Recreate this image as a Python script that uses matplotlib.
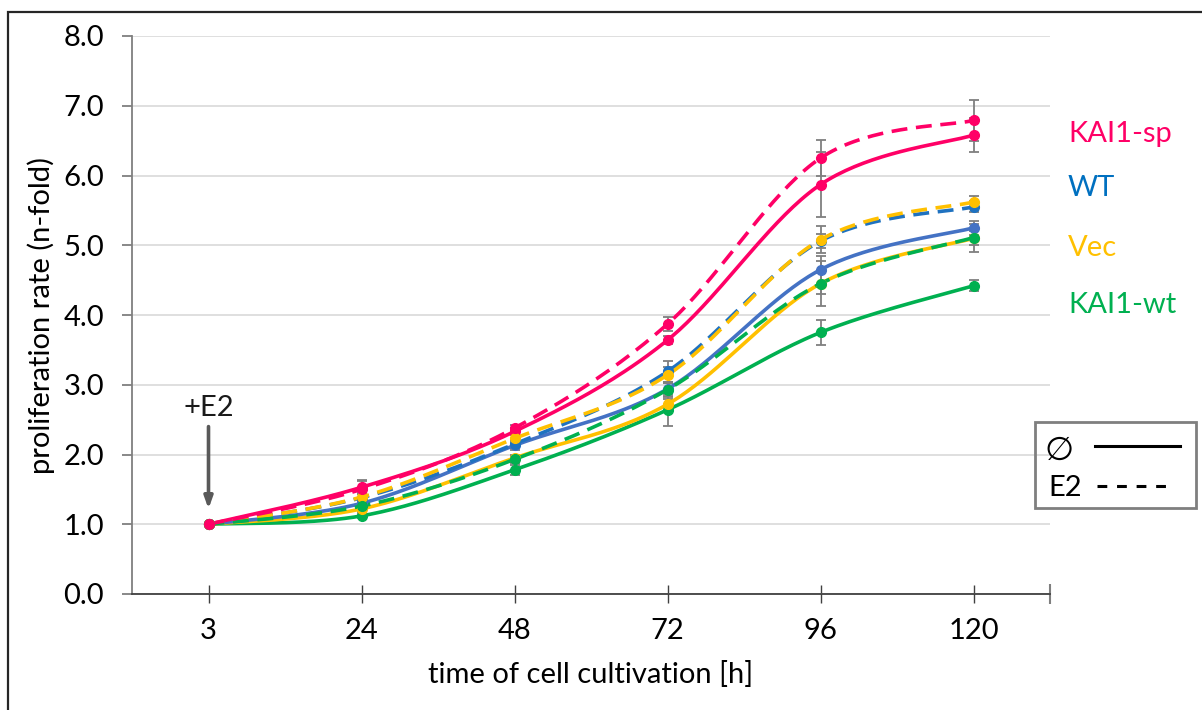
import numpy as np
import matplotlib
matplotlib.use("Agg")
import matplotlib.pyplot as plt
from matplotlib.patches import Rectangle
from matplotlib.lines import Line2D

plt.rcParams['font.family'] = ['Lato', 'DejaVu Sans']

# --- Data ---
hours = ["3", "24", "48", "72", "96", "120"]

sp_ctrl = [1.00, 1.53, 2.33, 3.64, 5.87, 6.58]
sp_ctrl_err = [0.0, 0.10, 0.05, 0.06, 0.47, 0.25]
sp_e2 = [1.00, 1.50, 2.38, 3.87, 6.25, 6.79]
sp_e2_err = [0.0, 0.12, 0.05, 0.10, 0.26, 0.29]

wt_ctrl = [1.00, 1.30, 2.13, 2.94, 4.65, 5.25]
wt_ctrl_err = [0.0, 0.06, 0.06, 0.10, 0.20, 0.10]
wt_e2 = [1.00, 1.38, 2.15, 3.19, 5.06, 5.55]
wt_e2_err = [0.0, 0.06, 0.06, 0.15, 0.10, 0.08]

vec_ctrl = [1.00, 1.22, 1.95, 2.72, 4.45, 5.10]
vec_ctrl_err = [0.0, 0.05, 0.05, 0.08, 0.15, 0.10]
vec_e2 = [1.00, 1.39, 2.23, 3.14, 5.08, 5.62]
vec_e2_err = [0.0, 0.06, 0.06, 0.12, 0.19, 0.08]

kwt_ctrl = [1.00, 1.12, 1.78, 2.64, 3.75, 4.42]
kwt_ctrl_err = [0.0, 0.03, 0.07, 0.23, 0.18, 0.08]
kwt_e2 = [1.00, 1.26, 1.93, 2.93, 4.45, 5.11]
kwt_e2_err = [0.0, 0.04, 0.05, 0.10, 0.32, 0.20]

PINK = "#FF0066"
BLUE = "#4472C4"
BLUE_D = "#1F72C0"
YELLOW = "#FFC000"
GREEN = "#00B050"
ERR = "#7F7F7F"
FS = 21


def smooth(xs, ys, n=40):
    """Excel-style smoothed line (Bezier through the points, tension 1/6)."""
    p = np.column_stack([xs, ys]).astype(float)
    pad = np.vstack([p[0], p, p[-1]])
    out = []
    t = np.linspace(0, 1, n)[:, None]
    for i in range(len(p) - 1):
        p0, p3 = pad[i + 1], pad[i + 2]
        c1 = p0 + (pad[i + 2] - pad[i]) / 6.0
        c2 = p3 - (pad[i + 3] - pad[i + 1]) / 6.0
        seg = ((1 - t) ** 3) * p0 + 3 * ((1 - t) ** 2) * t * c1 + 3 * (1 - t) * t ** 2 * c2 + t ** 3 * p3
        out.append(seg if i == 0 else seg[1:])
    out = np.vstack(out)
    return out[:, 0], out[:, 1]


fig = plt.figure(figsize=(12.02, 7.10), dpi=100)
ax = fig.add_axes([132 / 1202, 1 - 594 / 710, (1050 - 132) / 1202, (594 - 36) / 710])

x = np.arange(len(hours))
LW = 2.6
series = [
    (kwt_ctrl, kwt_ctrl_err, GREEN, "-"),
    (vec_ctrl, vec_ctrl_err, YELLOW, "-"),
    (wt_ctrl, wt_ctrl_err, BLUE, "-"),
    (sp_ctrl, sp_ctrl_err, PINK, "-"),
    (wt_e2, wt_e2_err, BLUE_D, "--"),
    (vec_e2, vec_e2_err, YELLOW, "--"),
    (kwt_e2, kwt_e2_err, GREEN, "--"),
    (sp_e2, sp_e2_err, PINK, "--"),
]

# error bars first, underneath the lines
for vals, err, col, ls in series:
    ax.errorbar(x, vals, yerr=err, fmt="none", ecolor=ERR, elinewidth=1.3,
                capsize=3.8, capthick=1.3, zorder=2)

for vals, err, col, ls in series:
    sx, sy = smooth(x, vals)
    line, = ax.plot(sx, sy, color=col, lw=LW, zorder=3, solid_capstyle="butt")
    if ls == "--":
        line.set_dashes((4.4, 2.4))
    ax.plot(x, vals, "o", color=col, ms=7, zorder=4)

ax.set_xlim(-0.5, 5.5)
ax.set_ylim(0, 8)
ax.set_yticks(np.arange(0, 8.1, 1.0))
ax.set_yticklabels([f"{v:.1f}" for v in np.arange(0, 8.1, 1.0)], fontsize=FS)
ax.set_xticks(x)
ax.set_xticklabels(hours, fontsize=FS)
ax.set_xticks([5.5], minor=True)
ax.yaxis.grid(True, color="#D9D9D9", lw=1.2)
ax.set_axisbelow(True)

for side in ["top", "right"]:
    ax.spines[side].set_visible(False)
ax.spines["left"].set_color("#7F7F7F")
ax.spines["left"].set_linewidth(1.3)
ax.spines["bottom"].set_color("#404040")
ax.spines["bottom"].set_linewidth(1.3)
ax.tick_params(axis="y", length=7, width=1.3, color="#7F7F7F", pad=13, direction="out")
ax.tick_params(axis="x", which="major", length=13, width=1.0, color="#404040", direction="inout", pad=11)
ax.tick_params(axis="x", which="minor", length=14, width=1.5, color="#7F7F7F", direction="inout")

ax.set_xlabel("time of cell cultivation [h]", fontsize=FS, labelpad=12)
ax.set_ylabel("proliferation rate (n-fold)", fontsize=FS, labelpad=6)

# +E2 marker
ax.annotate("", xy=(0, 1.22), xytext=(0, 2.40),
            arrowprops=dict(arrowstyle="-|>,head_width=0.25,head_length=0.7",
                            color="#595959", lw=2.6, shrinkA=0, shrinkB=0))
ax.text(0, 2.67, "+E2", ha="center", va="center", fontsize=FS, color="#1a1a1a")

# series labels on the right
labels = [("KAI1-sp", PINK, 134), ("WT", "#0070C0", 188), ("Vec", YELLOW, 248), ("KAI1-wt", GREEN, 305)]
for txt, col, ypx in labels:
    fig.text(1068 / 1202, 1 - ypx / 710, txt, color=col, fontsize=FS, ha="left", va="center")

# line style key
fig.add_artist(Rectangle((1035 / 1202, 1 - 508 / 710), 161 / 1202, 86 / 710,
                         transform=fig.transFigure, fill=False, ec="#7F7F7F", lw=2))
fig.text(1059 / 1202, 1 - 450 / 710, "\u2205", fontsize=24, ha="center", va="center",
         family=["DejaVu Sans"])
fig.add_artist(Line2D([1095 / 1202, 1180 / 1202], [1 - 446 / 710] * 2,
                      transform=fig.transFigure, color="black", lw=2.2))
fig.text(1065 / 1202, 1 - 488 / 710, "E2", fontsize=FS, ha="center", va="center")
fig.add_artist(Line2D([1097 / 1202, 1174 / 1202], [1 - 486 / 710] * 2,
                      transform=fig.transFigure, color="black", lw=2.2, dashes=(3.2, 3.2)))

# outer frame
fig.add_artist(Rectangle((8 / 1202, -0.1), 1.2, 1 - 12 / 710 + 0.1,
                         transform=fig.transFigure, fill=False, ec="#262626", lw=1.6))

fig.savefig("out.png", dpi=100)
